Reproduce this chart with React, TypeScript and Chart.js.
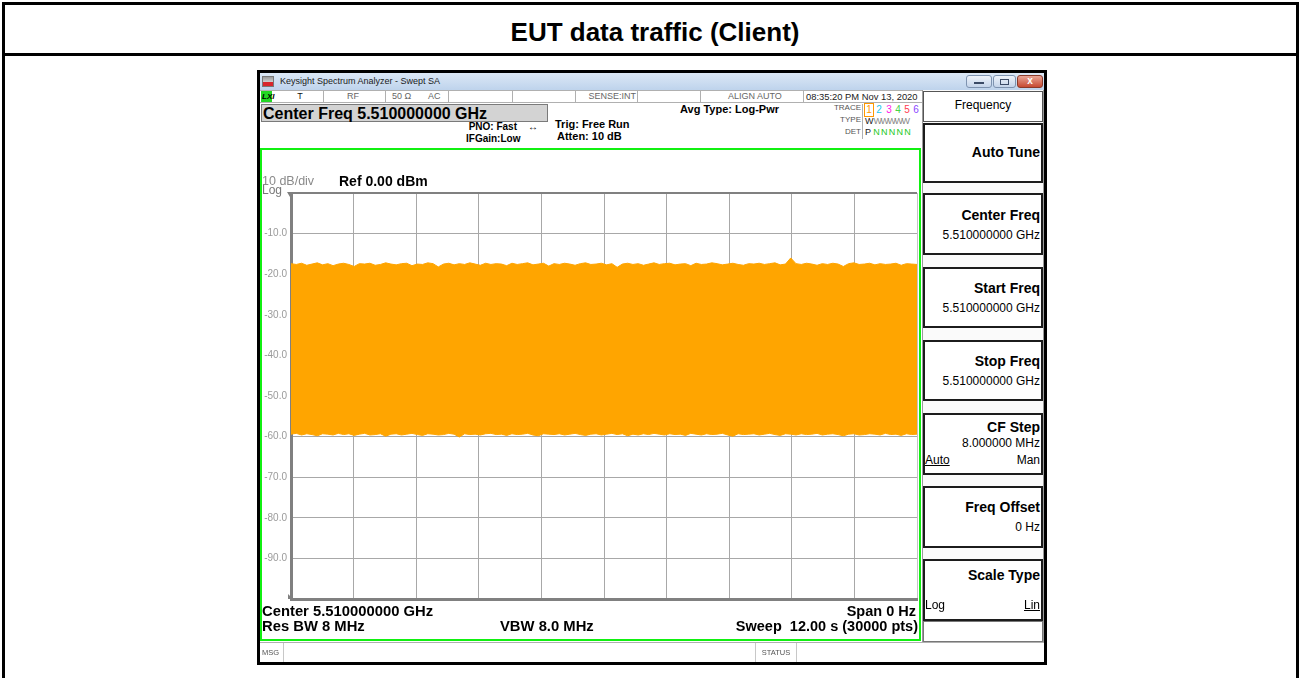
import React, { useEffect, useRef } from 'react';
import { Chart, registerables } from 'chart.js';

Chart.register(...registerables);

// ---------------- data ----------------
const SWEEP_SECONDS = 12;
const X_GRID = [0, 1.2, 2.4, 3.6, 4.8, 6, 7.2, 8.4, 9.6, 10.8, 12];
const Y_GRID = [0, -10, -20, -30, -40, -50, -60, -70, -80, -90, -100];
const Y_TICK_LABELS = ['', '-10.0', '-20.0', '-30.0', '-40.0', '-50.0', '-60.0', '-70.0', '-80.0', '-90.0', ''];

// upper envelope of the trace (dBm)
const UPPER = [
  -17.4, -17.6, -17.3, -17.8, -17.5, -17.2, -17.7, -17.4, -17.9, -17.5,
  -17.3, -17.6, -18.1, -17.4, -17.5, -17.3, -17.8, -17.6, -17.2, -17.5,
  -17.7, -17.4, -17.3, -17.9, -17.5, -17.6, -17.2, -17.4, -18.2, -17.5,
  -17.3, -17.7, -17.4, -17.6, -17.2, -17.5, -17.8, -17.3, -17.6, -17.4,
  -17.5, -17.9, -17.3, -17.6, -17.4, -17.2, -17.7, -17.5, -17.3, -18.0,
  -17.4, -17.6, -17.3, -17.5, -17.8, -17.4, -17.2, -17.6, -17.5, -17.3,
  -17.7, -17.4, -18.3, -17.5, -17.3, -17.6, -17.4, -17.8, -17.5, -17.2,
  -17.6, -17.4, -17.3, -17.7, -17.5, -17.4, -17.9, -17.3, -17.6, -17.5,
  -17.2, -17.4, -17.7, -17.5, -17.3, -17.6, -17.8, -17.4, -17.5, -17.3,
  -17.6, -17.4, -17.2, -17.7, -17.5, -16.0, -17.4, -17.6, -17.3, -17.5,
  -17.8, -17.4, -17.6, -17.3, -17.5, -18.1, -17.4, -17.2, -17.6, -17.5,
  -17.3, -17.7, -17.4, -17.6, -17.5, -17.3, -17.8, -17.4, -17.5, -17.6,
];

// lower envelope of the trace (dBm)
const LOWER = [
  -59.4, -59.2, -59.6, -59.3, -59.5, -59.8, -59.3, -59.4, -59.6, -59.2,
  -59.5, -59.3, -59.7, -59.4, -59.2, -59.6, -59.5, -59.3, -59.9, -59.4,
  -59.3, -59.6, -59.4, -59.2, -59.5, -59.7, -59.3, -59.4, -59.6, -59.5,
  -59.2, -59.4, -60.1, -59.3, -59.5, -59.4, -59.6, -59.3, -59.2, -59.5,
  -59.4, -59.7, -59.3, -59.5, -59.4, -59.2, -59.6, -59.8, -59.3, -59.4,
  -59.5, -59.3, -59.6, -59.4, -59.2, -59.5, -59.7, -59.4, -59.3, -59.6,
  -59.4, -59.2, -59.5, -59.3, -59.8, -59.4, -59.6, -59.3, -59.5, -59.2,
  -59.4, -59.6, -59.3, -59.5, -59.4, -59.7, -59.2, -59.4, -59.6, -59.3,
  -59.5, -59.4, -59.2, -59.6, -59.9, -59.3, -59.5, -59.4, -59.3, -59.6,
  -59.4, -59.2, -59.5, -59.7, -59.3, -59.4, -59.6, -59.3, -59.5, -59.4,
  -59.2, -59.6, -59.4, -59.3, -59.5, -59.8, -59.4, -59.3, -59.6, -59.5,
  -59.3, -59.4, -59.6, -59.2, -59.5, -59.4, -59.7, -59.3, -59.5, -59.4,
];

// ---------------- styles ----------------
const F = '"Liberation Sans", Arial, Helvetica, sans-serif';
const ORANGE = '#ffa500';
const GRID = '#a8a8a8';
const AXIS = '#808080';

type TxtProps = {
  x: number; y: number; size?: number; bold?: boolean; color?: string;
  align?: 'left' | 'right' | 'center'; style?: React.CSSProperties; children: React.ReactNode;
};
function Txt({ x, y, size = 11, bold = false, color = '#000', align = 'left', style = {}, children }: TxtProps) {
  const tx = align === 'right' ? 'translateX(-100%)' : align === 'center' ? 'translateX(-50%)' : 'none';
  const lh = Math.round(size * 1.2);
  return (
    <div style={{
      position: 'absolute', left: x, top: y - lh / 2, height: lh, lineHeight: `${lh}px`,
      fontSize: size, fontWeight: bold ? 700 : 400, fontFamily: F, color, whiteSpace: 'nowrap',
      transform: tx, ...style,
    }}>{children}</div>
  );
}

function Box({ l, t, r, b, style = {} }: { l: number; t: number; r: number; b: number; style?: React.CSSProperties }) {
  return <div style={{ position: 'absolute', left: l, top: t, width: r - l, height: b - t, boxSizing: 'border-box', ...style }} />;
}

function Plot() {
  const ref = useRef<HTMLCanvasElement | null>(null);
  useEffect(() => {
    if (!ref.current) return;
    const toPts = (arr: number[]) => arr.map((v, i) => ({ x: (i * SWEEP_SECONDS) / (arr.length - 1), y: v }));
    const chart = new Chart(ref.current, {
      type: 'line',
      data: {
        datasets: [
          { data: toPts(LOWER), borderColor: ORANGE, borderWidth: 1, pointRadius: 0, fill: false, tension: 0 },
          { data: toPts(UPPER), borderColor: ORANGE, borderWidth: 1, pointRadius: 0, fill: '-1', backgroundColor: ORANGE, tension: 0 },
        ],
      },
      options: {
        animation: false,
        responsive: false,
        events: [],
        layout: { padding: { left: 0, right: 2, top: 8, bottom: 6 } },
        plugins: { legend: { display: false }, tooltip: { enabled: false } },
        scales: {
          x: {
            type: 'linear', min: 0, max: SWEEP_SECONDS,
            afterBuildTicks: (s: any) => { s.ticks = X_GRID.map((v) => ({ value: v })); },
            afterFit: (s: any) => { s.height = 0; s.paddingLeft = 0; s.paddingRight = 0; },
            ticks: { display: false },
            grid: {
              drawTicks: false,
              color: (c: any) => (c.tick && c.tick.value === SWEEP_SECONDS ? '#c4c4c4' : GRID),
              lineWidth: 1,
            },
            border: { display: true, color: AXIS, width: 3 },
          },
          y: {
            type: 'linear', min: -100, max: 0,
            afterBuildTicks: (s: any) => { s.ticks = Y_GRID.map((v) => ({ value: v })); },
            afterFit: (s: any) => { s.width = 30; s.paddingTop = 0; s.paddingBottom = 0; },
            ticks: {
              callback: (v: any) => Y_TICK_LABELS[Y_GRID.indexOf(Number(v))] ?? '',
              color: '#9a9a9a', font: { size: 10, family: F }, padding: 4,
            },
            grid: {
              drawTicks: false,
              color: (c: any) => (c.tick && c.tick.value === 0 ? AXIS : GRID),
              lineWidth: (c: any) => (c.tick && c.tick.value === 0 ? 2 : 1),
            },
            border: { display: true, color: AXIS, width: 3 },
          },
        },
      },
    });
    return () => chart.destroy();
  }, []);
  return <canvas ref={ref} width={658} height={420} style={{ position: 'absolute', left: 261, top: 185, width: 658, height: 420 }} />;
}

function SoftKey({ t, b }: { t: number; b: number }) {
  return <Box l={923} t={t} r={1043} b={b} style={{ border: '2px solid #1c1c1c', background: '#fff' }} />;
}

export default function App() {
  useEffect(() => { document.body.style.overflow = 'hidden'; }, []);
  return (
    <div style={{ position: 'absolute', left: 0, top: 0, width: 1300, height: 678, background: '#fff', overflow: 'hidden', fontFamily: F }}>
      {/* outer frame */}
      <Box l={2} t={2} r={1299} b={690} style={{ borderLeft: '3px solid #000', borderTop: '3px solid #000', borderRight: '3px solid #000' }} />
      <Box l={2} t={53} r={1299} b={56} style={{ background: '#000' }} />
      <Txt x={655} y={32} size={26} bold align="center">EUT data traffic (Client)</Txt>

      {/* analyzer window */}
      <Box l={257} t={70} r={1047} b={665} style={{ border: '3px solid #000', background: '#fff' }} />
      <Box l={260} t={73} r={1044} b={90} style={{ background: 'linear-gradient(#dce8f6, #bed3ec)' }} />
      <Box l={262} t={76} r={274} b={87} style={{ background: 'linear-gradient(#9a9a9a, #cfcfcf 55%, #d8262c 60%, #d8262c)', border: '1px solid #777' }} />
      <Txt x={280} y={81} size={9} color="#1a1a1a">Keysight Spectrum Analyzer - Swept SA</Txt>
      <Box l={966} t={75} r={992} b={88} style={{ border: '1px solid #7e93b0', borderRadius: 3, background: 'linear-gradient(#eef3fa, #c4d4ea)' }} />
      <Box l={974} t={82} r={984} b={84} style={{ background: '#3a4a66' }} />
      <Box l={993} t={75} r={1016} b={88} style={{ border: '1px solid #7e93b0', borderRadius: 3, background: 'linear-gradient(#eef3fa, #c4d4ea)' }} />
      <Box l={1000} t={79} r={1009} b={85} style={{ border: '1px solid #3a4a66' }} />
      <Box l={1017} t={75} r={1043} b={88} style={{ border: '1px solid #8a3a2a', borderRadius: 3, background: 'linear-gradient(#e9a596, #c74a32)' }} />
      <Txt x={1030} y={81} size={10} bold color="#fff" align="center">x</Txt>

      {/* status row */}
      <Box l={260} t={90} r={922} b={103} style={{ borderTop: '1px solid #b0b0b0', borderBottom: '1px solid #b0b0b0', background: '#fff' }} />
      <Box l={261} t={91} r={272} b={102} style={{ background: '#22d622' }} />
      <Txt x={262} y={96.5} size={8} bold color="#000" style={{ fontStyle: 'italic' }}>LXI</Txt>
      <Txt x={300} y={96.5} size={9} color="#111" align="center">T</Txt>
      <Box l={323} t={90} r={324} b={103} style={{ background: '#b0b0b0' }} />
      <Txt x={353} y={96.5} size={9} color="#666" align="center">RF</Txt>
      <Box l={385} t={90} r={386} b={103} style={{ background: '#b0b0b0' }} />
      <Txt x={392} y={96.5} size={9} color="#666">50 Ω</Txt>
      <Txt x={428} y={96.5} size={9} color="#666">AC</Txt>
      <Box l={448} t={90} r={449} b={103} style={{ background: '#b0b0b0' }} />
      <Box l={512} t={90} r={513} b={103} style={{ background: '#b0b0b0' }} />
      <Box l={575} t={90} r={576} b={103} style={{ background: '#b0b0b0' }} />
      <Txt x={636} y={96.5} size={9} color="#666" align="right">SENSE:INT</Txt>
      <Box l={637} t={90} r={638} b={103} style={{ background: '#b0b0b0' }} />
      <Box l={700} t={90} r={701} b={103} style={{ background: '#b0b0b0' }} />
      <Txt x={728} y={96.5} size={9} color="#666">ALIGN AUTO</Txt>
      <Box l={803} t={90} r={804} b={103} style={{ background: '#b0b0b0' }} />
      <Txt x={806} y={96.5} size={9.4} color="#222">08:35:20 PM Nov 13, 2020</Txt>

      {/* header */}
      <Box l={261} t={104} r={548} b={122} style={{ background: '#d3d3d3', border: '1px solid #7a7a7a' }} />
      <Txt x={263} y={113} size={16} bold>Center Freq 5.510000000 GHz</Txt>
      <Txt x={517} y={127} size={10} bold align="right">PNO: Fast</Txt>
      <Txt x={533} y={127} size={10} bold align="center">↔</Txt>
      <Txt x={466} y={138.5} size={10} bold>IFGain:Low</Txt>
      <Txt x={555} y={124} size={11} bold>Trig: Free Run</Txt>
      <Txt x={557} y={136} size={11} bold>Atten: 10 dB</Txt>
      <Txt x={680} y={109.5} size={11} bold>Avg Type: Log-Pwr</Txt>
      <Txt x={861} y={108} size={8} color="#555" align="right">TRACE</Txt>
      <Txt x={861} y={120} size={8} color="#555" align="right">TYPE</Txt>
      <Txt x={861} y={132} size={8} color="#555" align="right">DET</Txt>
      <Box l={862} t={104} r={863} b={139} style={{ background: '#b0b0b0' }} />
      <Box l={864} t={103} r={874} b={117} style={{ border: '1px solid #ff9900' }} />
      <Txt x={869} y={110} size={10} color="#ff9900" align="center">1</Txt>
      <Txt x={879} y={110} size={10} color="#19c8f0" align="center">2</Txt>
      <Txt x={889} y={110} size={10} color="#ff1ee6" align="center">3</Txt>
      <Txt x={898} y={110} size={10} color="#46d246" align="center">4</Txt>
      <Txt x={907} y={110} size={10} color="#ff3c50" align="center">5</Txt>
      <Txt x={916} y={110} size={10} color="#8c46ff" align="center">6</Txt>
      <Txt x={865} y={121} size={9} color="#222">W<span style={{ color: '#888', letterSpacing: -1.5 }}>WWWWW</span></Txt>
      <Txt x={865} y={132} size={9} color="#222">P <span style={{ color: '#22c822', letterSpacing: 1.2 }}>NNNNN</span></Txt>

      {/* green frame */}
      <Box l={260} t={148} r={921} b={641} style={{ border: '2px solid #11f011' }} />

      <Plot />

      <Txt x={262} y={181} size={12.5} color="#8a8a8a">10 dB/div</Txt>
      <Txt x={262} y={190} size={12} color="#777">Log</Txt>
      <div style={{ position: 'absolute', left: 287, top: 192, width: 0, height: 0, borderLeft: '3px solid transparent', borderRight: '3px solid transparent', borderTop: '5px solid #808080' }} />
      <div style={{ position: 'absolute', left: 288, top: 594, width: 0, height: 0, borderTop: '5px solid transparent', borderLeft: '5px solid #808080' }} />
      <Txt x={339} y={181} size={14} bold>Ref 0.00 dBm</Txt>

      <Txt x={262} y={611} size={14.8} bold>Center 5.510000000 GHz</Txt>
      <Txt x={262} y={626} size={14.8} bold>Res BW 8 MHz</Txt>
      <Txt x={500} y={626} size={14.8} bold>VBW 8.0 MHz</Txt>
      <Txt x={916} y={611} size={14.5} bold align="right">Span 0 Hz</Txt>
      <Txt x={918} y={626} size={14.5} bold align="right" style={{ whiteSpace: 'pre' }}>Sweep  12.00 s (30000 pts)</Txt>

      {/* message row */}
      <Box l={260} t={642} r={1044} b={643} style={{ background: '#b0b0b0' }} />
      <Txt x={262} y={652} size={7.5} color="#555">MSG</Txt>
      <Box l={283} t={643} r={284} b={662} style={{ background: '#c8c8c8' }} />
      <Box l={755} t={643} r={756} b={662} style={{ background: '#c8c8c8' }} />
      <Txt x={776} y={652} size={7.5} color="#555" align="center">STATUS</Txt>
      <Box l={796} t={643} r={797} b={662} style={{ background: '#c8c8c8' }} />

      {/* softkey panel */}
      <Box l={922} t={90} r={1044} b={642} style={{ borderLeft: '1px solid #9a9a9a', borderRight: '1px solid #9a9a9a', background: '#fafafa' }} />
      <Box l={923} t={91} r={1043} b={122} style={{ border: '1px solid #555', background: '#fff' }} />
      <Txt x={983} y={105} size={12} align="center">Frequency</Txt>
      <SoftKey t={123} b={183} />
      <Txt x={1040} y={152} size={14} bold align="right">Auto Tune</Txt>
      <SoftKey t={193} b={255} />
      <Txt x={1040} y={215} size={14} bold align="right">Center Freq</Txt>
      <Txt x={1040} y={235} size={12} align="right">5.510000000 GHz</Txt>
      <SoftKey t={267} b={328} />
      <Txt x={1040} y={288} size={14} bold align="right">Start Freq</Txt>
      <Txt x={1040} y={308} size={12} align="right">5.510000000 GHz</Txt>
      <SoftKey t={340} b={401} />
      <Txt x={1040} y={361} size={14} bold align="right">Stop Freq</Txt>
      <Txt x={1040} y={381} size={12} align="right">5.510000000 GHz</Txt>
      <SoftKey t={413} b={475} />
      <Txt x={1040} y={427} size={14} bold align="right">CF Step</Txt>
      <Txt x={1040} y={443} size={12} align="right">8.000000 MHz</Txt>
      <Txt x={925} y={460} size={12} style={{ textDecoration: 'underline' }}>Auto</Txt>
      <Txt x={1040} y={460} size={12} align="right">Man</Txt>
      <SoftKey t={486} b={548} />
      <Txt x={1040} y={507} size={14} bold align="right">Freq Offset</Txt>
      <Txt x={1040} y={527} size={12} align="right">0 Hz</Txt>
      <SoftKey t={559} b={621} />
      <Txt x={1040} y={575} size={14} bold align="right">Scale Type</Txt>
      <Txt x={925} y={605} size={12}>Log</Txt>
      <Txt x={1040} y={605} size={12} align="right" style={{ textDecoration: 'underline' }}>Lin</Txt>
      <Box l={923} t={621} r={1043} b={642} style={{ border: '1px solid #777', background: '#fff' }} />
    </div>
  );
}
